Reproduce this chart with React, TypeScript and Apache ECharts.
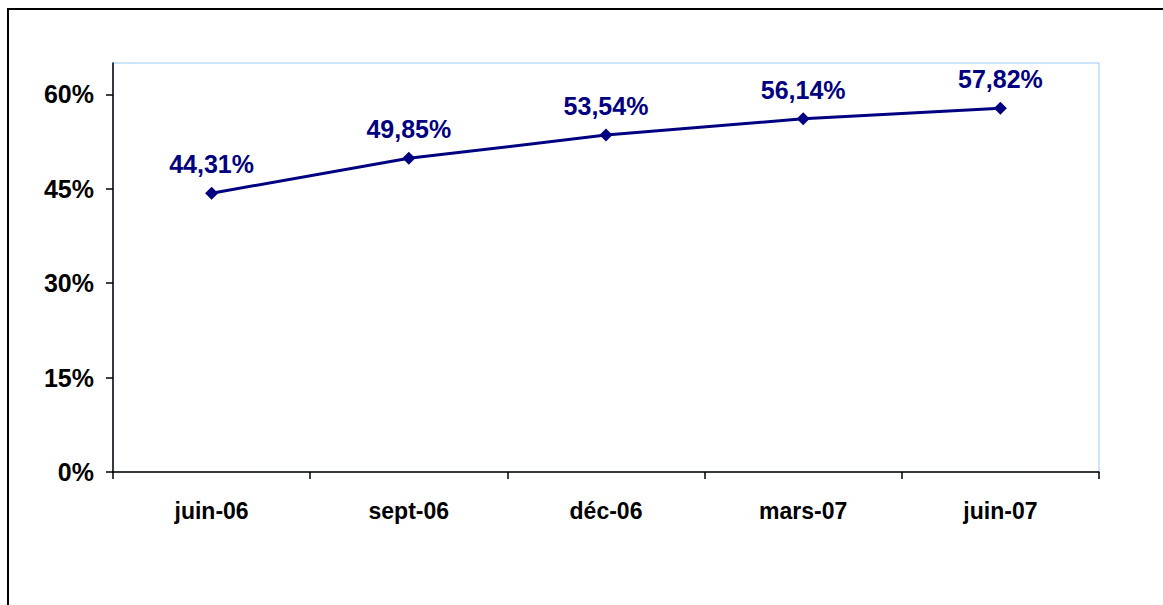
import React, { useEffect, useRef } from "react";
import * as echarts from "echarts";

const categories = ["juin-06", "sept-06", "déc-06", "mars-07", "juin-07"];
const values = [44.31, 49.85, 53.54, 56.14, 57.82];
const yTicks = [0, 15, 30, 45, 60];

export default function App() {
  const ref = useRef<HTMLDivElement>(null);
  useEffect(() => {
    if (!ref.current) return;
    const chart = echarts.init(ref.current, null, { renderer: "svg" });
    const font = "Liberation Sans, Arial, sans-serif";
    chart.setOption({
      animation: false,
      backgroundColor: "#ffffff",
      graphic: [
        {
          type: "rect",
          shape: { x: 8, y: 9, width: 1200, height: 700 },
          style: { fill: "none", stroke: "#000000", lineWidth: 2 },
          silent: true,
        },
      ],
      grid: {
        left: 113,
        top: 63,
        right: 64,
        bottom: 133,
        show: true,
        borderColor: "#99ccff",
        borderWidth: 1,
        containLabel: false,
      },
      xAxis: {
        type: "category",
        data: categories,
        boundaryGap: true,
        axisLine: { lineStyle: { color: "#000000", width: 1.5 } },
        axisTick: { show: true, length: 7, inside: false, alignWithLabel: false, lineStyle: { color: "#000000", width: 1.5 } },
        axisLabel: {
          color: "#000000",
          fontFamily: font,
          fontWeight: "bold",
          fontSize: 23,
          margin: 27,
        },
        splitLine: { show: false },
      },
      yAxis: {
        type: "value",
        min: 0,
        max: 65,
        interval: 15,
        axisLine: { show: true, lineStyle: { color: "#000000", width: 1.5 } },
        axisTick: { show: true, length: 7, customValues: yTicks, lineStyle: { color: "#000000", width: 1.5 } },
        axisLabel: {
          customValues: yTicks,
          color: "#000000",
          fontFamily: font,
          fontWeight: "bold",
          fontSize: 25,
          margin: 19,
          formatter: (v: number) => `${v}%`,
        },
        splitLine: { show: false },
      },
      series: [
        {
          type: "line",
          data: values,
          color: "#000080",
          lineStyle: { color: "#000080", width: 3 },
          symbol: "diamond",
          symbolSize: 13,
          itemStyle: { color: "#000080" },
          label: {
            show: true,
            position: "top",
            distance: 10,
            color: "#000080",
            fontFamily: font,
            fontWeight: "bold",
            fontSize: 25,
            formatter: (p: any) => `${p.value.toFixed(2).replace(".", ",")}%`,
          },
        },
      ],
    });
    return () => chart.dispose();
  }, []);
  return (
    <div
      ref={ref}
      style={{ position: "fixed", left: 0, top: 0, width: 1163, height: 605 }}
    />
  );
}
